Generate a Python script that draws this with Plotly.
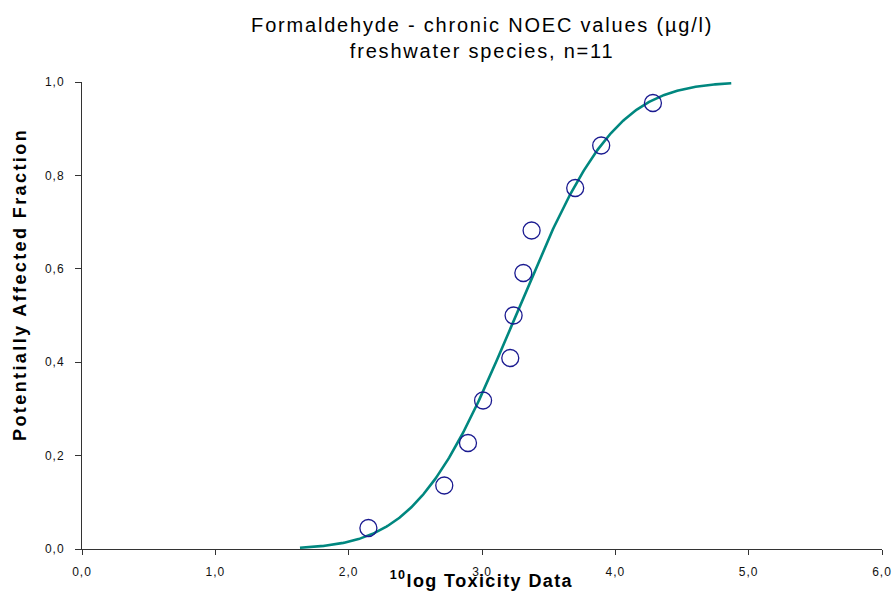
import math
import numpy as np
import plotly.graph_objects as go

# 10log NOEC values (ug/l), freshwater species, n=11
log_tox = [2.148, 2.717, 2.895, 3.008, 3.212, 3.237, 3.310, 3.372, 3.699, 3.894, 4.282]
# plotting positions (i-0.5)/n
paf = [0.045, 0.136, 0.227, 0.318, 0.409, 0.500, 0.591, 0.682, 0.773, 0.864, 0.955]

x_ticks = [0, 1, 2, 3, 4, 5, 6]
y_ticks = [0, 0.2, 0.4, 0.6, 0.8, 1.0]

# fitted log-normal SSD from the data
mu = float(np.mean(log_tox))
sd = float(np.std(log_tox, ddof=1))
xc = np.linspace(mu - 2.78 * sd, mu + 2.78 * sd, 400)
yc = np.array([0.5 * (1 + math.erf((v - mu) / (sd * math.sqrt(2)))) for v in xc])

fig = go.Figure()
fig.add_trace(go.Scatter(x=xc, y=yc, mode="lines",
                         line=dict(color="#00877f", width=2.6), hoverinfo="skip"))
fig.add_trace(go.Scatter(x=log_tox, y=paf, mode="markers",
                         marker=dict(symbol="circle-open", size=17, color="#1a1a90",
                                     line=dict(width=1.3, color="#1a1a90"))))

font = "Liberation Sans, Arial, sans-serif"
fig.update_layout(
    width=896, height=592,
    margin=dict(l=82, r=14, t=82, b=43),
    paper_bgcolor="white", plot_bgcolor="white",
    showlegend=False,
    separators=",.",
    font=dict(family=font, color="black", size=12),
    xaxis=dict(range=[0, 6], tickvals=x_ticks, tickformat=".1f", automargin=False,
               showgrid=False, zeroline=False, showline=True, linecolor="#333",
               linewidth=1, ticks="outside", ticklen=5, tickcolor="#333",
               ticklabelstandoff=7,
               tickfont=dict(size=12, family=font, color="#111")),
    yaxis=dict(range=[0, 1], tickvals=y_ticks, tickformat=".1f", automargin=False,
               showgrid=False, zeroline=False, showline=True, linecolor="#333",
               linewidth=1, ticks="outside", ticklen=6, tickcolor="#333",
               ticklabelstandoff=8,
               tickfont=dict(size=12, family=font, color="#111")),
    annotations=[
        dict(text="Formaldehyde - chronic NOEC values (µg/l)<br>freshwater species, n=11",
             xref="paper", yref="paper", x=0.5, y=1.0, yshift=70, xanchor="center",
             yanchor="top", showarrow=False, align="center",
             font=dict(size=20, family=font)),
        dict(text="<b><sup>10</sup>log Toxicity Data</b>",
             xref="paper", yref="paper", x=0.5, y=0, yshift=-30, xanchor="center",
             yanchor="middle", showarrow=False, font=dict(size=18, family=font)),
        dict(text="<b>Potentially Affected Fraction</b>",
             xref="paper", yref="paper", x=0, y=0.565, xshift=-62, textangle=-90,
             xanchor="center", yanchor="middle", showarrow=False,
             font=dict(size=18, family=font)),
    ],
)

post = """
document.body.style.margin='0';
document.body.style.overflow='hidden';
var sp = {0: '1.8px', 1: '1.4px', 2: '2.4px'};
document.querySelectorAll('g.annotation').forEach(function(g){
  var i = g.getAttribute('data-index');
  var t = g.querySelector('text');
  if (t && sp[i]) { t.style.letterSpacing = sp[i]; }
});
document.querySelectorAll('g.xtick text, g.ytick text').forEach(function(t){
  t.style.letterSpacing = '1px';
});
"""
fig.write_html("out.html", post_script=post, config={"displayModeBar": False})
